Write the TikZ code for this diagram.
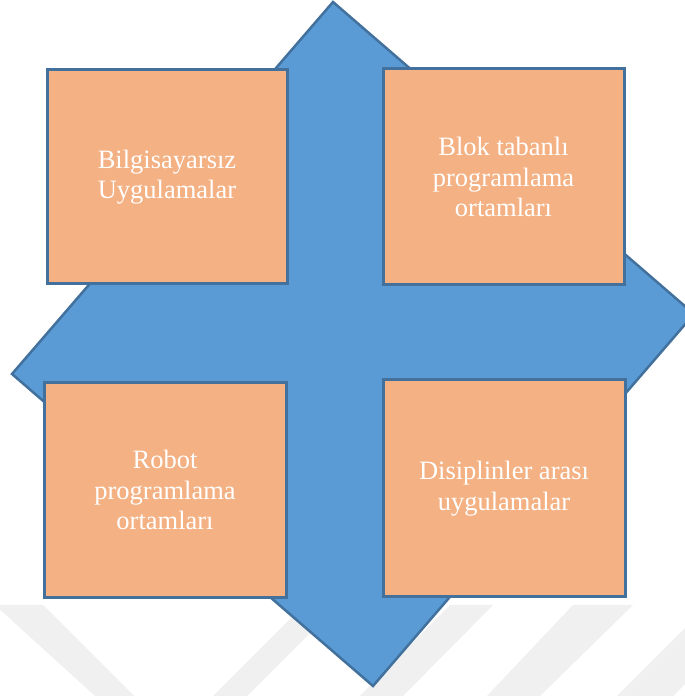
\documentclass[tikz,border=0pt]{standalone}
\usepackage{fontspec}
\setmainfont{Liberation Serif}
\definecolor{arrowfill}{HTML}{5B9BD5}
\definecolor{arrowline}{HTML}{41719C}
\definecolor{boxfill}{HTML}{F4B183}
\definecolor{markgray}{HTML}{F0F0F0}
\tikzset{
  topic/.style={draw=arrowline, line width=3pt, fill=boxfill,
    minimum width=240pt, minimum height=214pt, inner sep=0pt,
    align=center, text=white, font=\fontsize{26.5}{30.5}\selectfont},
  band/.style={fill=markgray, draw=none}
}
\begin{document}
\begin{tikzpicture}[x=1pt,y=1pt]
\useasboundingbox (0,0) rectangle (685,696);
\clip (0,0) rectangle (685,696);
\fill[white] (0,0) rectangle (685,696);

% faint chevron bands along the bottom edge
\fill[band] (-5,91) -- (43,91) -- (134,0) -- (95,0) -- cycle;
\fill[band] (213,0) -- (247,0) -- (338,91) -- (304,91) -- cycle;
\fill[band] (360,0) -- (403,0) -- (493,91) -- (450,91) -- cycle;
\fill[band] (487,0) -- (540,0) -- (633,91) -- (573,91) -- cycle;
\fill[band] (617,0) -- (673,0) -- (764,91) -- (708,91) -- cycle;

% four-way arrow, drawn in its own slightly turned frame
\begin{scope}[shift={(353pt,352pt)}, x={(341pt,30pt)}, y={(-20pt,342pt)}]
\draw[fill=arrowfill, draw=arrowline, line width=2.5pt, line join=miter]
  (0,1) -- (0.4,0.6) -- (0.25,0.6) -- (0.25,0.25) -- (0.6,0.25) -- (0.6,0.4)
  -- (1,0) -- (0.6,-0.4) -- (0.6,-0.25) -- (0.25,-0.25) -- (0.25,-0.6) -- (0.4,-0.6)
  -- (0,-1) -- (-0.4,-0.6) -- (-0.25,-0.6) -- (-0.25,-0.25) -- (-0.6,-0.25) -- (-0.6,-0.4)
  -- (-1,0) -- (-0.6,0.4) -- (-0.6,0.25) -- (-0.25,0.25) -- (-0.25,0.6) -- (-0.4,0.6)
  -- cycle;
\end{scope}

% the four topic boxes
\node[topic] (tl) at (167,519) {Bilgisayarsız\\Uygulamalar};
\node[topic, minimum width=241pt, minimum height=216pt] (tr) at (503.5,519)
  {Blok tabanlı\\programlama\\ortamları};
\node[topic, minimum width=242pt, minimum height=215pt] (bl) at (165,206)
  {Robot\\programlama\\ortamları};
\node[topic, minimum width=242pt, minimum height=217pt] (br) at (504,207.5)
  {Disiplinler arası\\uygulamalar};
\end{tikzpicture}
\end{document}
